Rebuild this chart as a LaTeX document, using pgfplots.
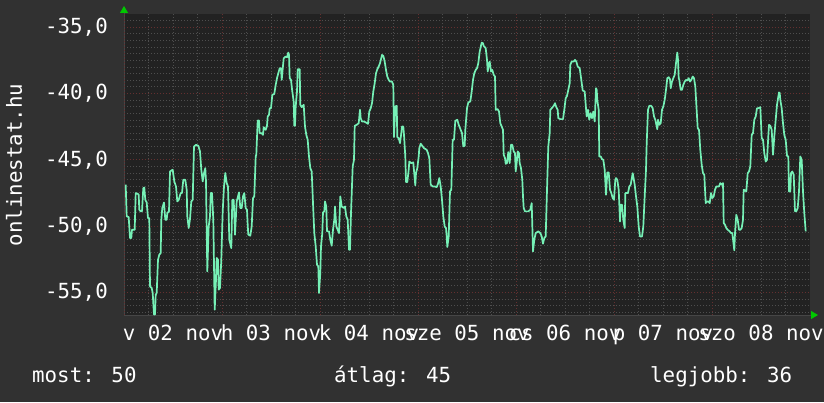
\documentclass[border=0pt]{standalone}
\usepackage{pgfplots}
\pgfplotsset{compat=1.18}
\usetikzlibrary{arrows.meta}
\usepackage{fontspec}
\setmainfont{DejaVu Sans Mono}
\definecolor{outerbg}{RGB}{49,49,49}
\definecolor{canvasbg}{RGB}{34,34,34}
\definecolor{minorgrid}{RGB}{78,78,78}
\definecolor{axisline}{RGB}{70,70,70}
\definecolor{majorgrid}{RGB}{100,48,48}
\definecolor{mint}{RGB}{118,240,182}
\definecolor{arrowgreen}{RGB}{0,200,0}
\pgfplotstableread{
x y
125.7 -46.88
126.7 -49.27
128.7 -49.32
130 -50.90
131.3 -50.90
132 -50.28
134.7 -50.28
135.7 -47.51
137.7 -47.56
138.7 -47.64
139.3 -48.77
140.7 -48.89
142 -48.89
143.3 -47.14
144.3 -47.09
145.3 -48.02
146.7 -48.22
148 -49.40
149.3 -49.40
150 -54.55
151.7 -54.67
152.7 -55.05
154 -56.68
155 -56.68
155.7 -55.18
156.7 -55.05
158 -52.54
159.3 -52.16
160.7 -52.04
161.3 -49.52
162.3 -48.64
164 -48.22
165.3 -49.52
166.7 -49.52
167.3 -49.02
169 -48.89
170 -45.88
172.7 -45.75
174.3 -46.63
176 -47.01
177.3 -48.14
178.7 -48.02
180.7 -47.51
182 -47.51
183.3 -46.51
185.3 -46.51
186.7 -47.26
187.3 -49.27
188.7 -50.15
190 -49.47
191.3 -48.14
192.7 -48.02
194 -44.00
196 -43.87
198.3 -43.94
200 -44.37
201.3 -45.75
202.7 -46.63
204 -46.00
205.3 -45.63
206 -46.63
207.3 -53.42
208.7 -50.03
210 -49.27
210.7 -47.51
212 -47.51
213.3 -49.52
214.7 -56.31
216 -54.05
216.7 -52.41
218 -52.54
218.7 -54.80
220 -54.67
221.3 -52.54
222.7 -48.89
224 -47.01
225.3 -46.00
226.7 -46.76
228 -47.01
229.3 -51.03
231.3 -51.66
232.3 -48.02
233.7 -48.02
235 -50.65
236.7 -48.14
239 -47.46
240.3 -48.64
241.7 -48.64
243 -47.76
244.3 -47.51
245.7 -48.64
247 -48.77
247.7 -49.90
248.3 -50.65
250.3 -50.73
251.7 -50.03
253 -47.89
254.3 -47.76
255.7 -44.75
256.3 -44.62
257.7 -42.04
259 -42.04
259.7 -42.99
261.7 -42.99
263 -43.12
263.7 -42.54
265.7 -42.74
267 -42.44
267.7 -41.73
269 -41.61
269.7 -41.11
271 -41.11
272.3 -40.10
274.3 -40.03
275.7 -39.35
277 -38.84
278.3 -38.47
279.7 -38.09
281 -38.09
281.7 -38.97
283.7 -37.34
285.7 -37.21
287 -37.26
288.3 -36.91
289 -37.09
289.7 -38.84
291 -38.97
292.3 -39.85
293.7 -40.60
294.3 -42.44
295 -42.44
295.7 -40.98
297 -39.85
297.7 -38.17
299.7 -38.17
300.3 -40.85
301.7 -41.03
303.7 -40.85
305 -42.49
306.3 -43.12
307.7 -43.49
309 -44.75
310.3 -45.63
311.7 -45.88
313 -48.27
314.3 -50.53
315.7 -51.53
317 -52.91
318.3 -53.04
319 -55.05
320.3 -53.54
321 -51.53
322.3 -50.53
323 -48.97
324.3 -48.89
325 -48.14
326.3 -48.52
327 -50.40
329 -50.40
330.3 -51.03
331.7 -51.48
333 -50.28
334.3 -49.52
335 -48.52
336.3 -50.03
337.7 -50.28
339 -50.53
340.3 -47.76
341.7 -48.52
343.7 -48.64
345 -48.52
346.3 -49.27
347.7 -49.52
349 -51.78
350 -51.78
351 -49.02
352.7 -45.50
354 -45.00
354.7 -42.44
356.7 -42.36
358.7 -42.24
360 -41.23
360.7 -41.86
362 -42.11
364 -42.11
366 -42.19
368 -42.29
369.3 -41.36
370.7 -41.11
372 -40.73
373.3 -39.85
374.7 -39.22
376 -38.47
377.3 -38.17
378.7 -37.96
380 -37.71
382 -37.09
383.3 -37.16
384.7 -37.59
386 -38.22
387.3 -38.72
388.7 -38.97
390 -39.10
392 -39.10
393.3 -39.35
394 -43.29
395.3 -40.98
396.7 -40.93
397.3 -43.29
398.7 -43.37
400 -43.74
401.3 -42.99
402 -42.49
403.3 -42.49
404 -43.12
405.3 -44.75
406 -46.68
407.3 -46.68
408.7 -45.75
409.3 -45.13
411.3 -45.25
413.3 -45.20
415.3 -46.93
416 -46.00
417.3 -45.63
418.7 -44.75
419.3 -44.12
420.7 -43.79
422.7 -43.99
424 -44.12
426.7 -44.25
428 -44.50
429.3 -44.87
430.7 -46.88
432.7 -47.01
434.7 -47.01
436.7 -47.06
438 -46.81
439.3 -46.38
440.7 -47.01
442 -48.02
443.3 -49.27
444.7 -50.03
446 -50.15
446.7 -50.78
447.3 -51.58
448.7 -50.78
450 -47.39
451.3 -47.26
452.7 -43.49
454 -43.49
455.3 -42.06
457.3 -41.98
458.7 -42.36
460.7 -42.74
462 -42.99
463.3 -43.99
464.7 -43.94
465.3 -42.74
467 -41.11
468.3 -40.68
470.3 -40.60
471.7 -39.85
473 -38.97
474.3 -38.47
475.7 -38.22
477 -38.09
478.3 -37.71
479.7 -36.83
481.7 -36.16
483 -36.21
483.7 -36.41
485.7 -36.58
487 -37.46
487.7 -38.34
489 -37.71
489.7 -37.59
491 -38.34
492.3 -38.22
493.7 -38.59
495 -38.72
495.7 -41.23
497.7 -41.18
499 -41.36
500.3 -42.24
501.7 -42.49
503 -42.74
503.7 -44.62
505 -44.87
505.7 -45.30
507 -45.25
508.3 -44.42
509.7 -45.25
511 -43.87
512.3 -43.87
513.7 -44.37
515 -44.50
515.7 -45.88
517 -45.00
517.7 -44.37
519 -44.50
519.7 -45.25
521 -45.63
522.3 -46.51
523 -47.76
523.7 -48.64
525 -48.89
528.3 -48.89
530.3 -48.77
531.7 -48.27
533 -51.91
534.3 -51.03
535.7 -50.53
538.3 -50.40
540.3 -50.53
541.7 -50.78
543 -51.33
544.3 -50.90
545.7 -50.78
547 -47.26
548.3 -43.99
549.7 -42.99
550.3 -41.23
551.7 -41.11
553.7 -40.93
555 -40.73
556.3 -41.03
557.7 -41.23
558.3 -41.86
560.3 -41.93
563 -41.93
564.3 -41.23
565.7 -40.35
567 -40.18
568.3 -39.72
569.7 -39.22
570.3 -37.84
571.7 -37.59
573.7 -37.59
575 -37.46
576.3 -37.59
577.7 -37.96
579.7 -38.09
581.3 -38.97
582.7 -39.77
584.7 -39.85
586 -41.11
586.7 -41.73
588 -41.23
589.3 -41.98
590.7 -41.48
592 -41.86
593.3 -41.36
594.7 -42.11
596 -39.60
596.7 -39.72
597.3 -40.48
598.7 -41.23
599.3 -44.75
600.7 -44.75
602 -44.95
603.3 -45.00
604.7 -45.75
606 -47.64
607.3 -45.95
608.7 -45.95
610 -47.26
611.3 -47.51
612.7 -47.89
614 -48.02
615.3 -46.51
616 -46.38
617.3 -46.51
618.7 -47.26
620 -49.65
620.7 -48.39
622 -48.39
623.3 -49.52
624.7 -50.15
625.3 -47.51
626.7 -47.51
628 -47.51
629.3 -47.01
630.7 -46.88
632.7 -46.01
633.3 -46.26
634.7 -46.88
636 -47.76
637.3 -48.52
638.7 -50.03
640 -50.78
642 -50.78
643.3 -50.03
644.7 -47.76
646 -45.75
646.7 -43.74
648 -41.23
649.3 -40.93
651.3 -40.93
652.7 -41.11
654 -41.73
655.3 -41.98
657.3 -42.69
658 -41.98
659.3 -42.36
660.7 -42.24
662 -41.23
663.3 -40.98
664.7 -40.48
666 -39.72
667.3 -38.84
668.7 -38.77
670 -38.92
670.7 -39.60
672 -39.10
673.3 -38.84
674.7 -38.59
676 -37.71
677.3 -36.91
678 -37.46
678.7 -38.84
679.3 -38.97
680.7 -39.72
682 -39.72
683.3 -39.35
684.7 -39.10
686 -38.97
687.3 -39.02
688.7 -38.84
690 -39.10
691.3 -38.97
692.7 -38.72
694 -38.84
695.3 -39.47
697.7 -42.61
699 -42.74
700.3 -44.25
701.7 -45.38
703 -46.01
704.3 -46.13
705.7 -48.27
707 -48.14
708.3 -48.14
709.7 -48.27
711 -47.51
712.3 -47.89
713.7 -47.76
715 -47.26
716.3 -47.01
717.7 -47.01
719 -47.01
720.3 -46.76
721.7 -46.88
723 -46.76
723.7 -49.77
725 -49.90
726.3 -50.15
727.7 -50.28
729.7 -50.40
731 -50.53
732.3 -50.53
734.3 -51.83
735 -50.53
736.3 -49.15
737.7 -49.52
739 -50.28
740.3 -50.28
741.7 -50.15
743 -49.52
743.7 -47.26
745 -47.31
746.3 -47.39
747.7 -46.01
749 -45.88
750.3 -45.50
751.7 -43.12
753 -42.99
754.3 -41.98
755.7 -41.73
757 -41.11
758.3 -41.11
760.3 -41.03
761.7 -43.37
763 -43.49
764.3 -44.50
765.7 -45.13
767 -45.00
768.3 -43.24
769 -42.36
770.3 -42.44
771.7 -42.74
773 -44.62
774.3 -43.24
775.7 -41.98
777 -40.85
779 -39.92
779.7 -39.97
780.3 -40.48
781.7 -41.11
783 -42.24
784.3 -43.12
785.7 -43.49
787 -44.70
788.3 -44.75
789 -47.39
790.3 -47.39
791 -46.01
792.3 -45.88
793.7 -46.13
795 -48.89
796.3 -48.89
797.7 -48.64
799 -47.39
800.3 -44.75
801.7 -45.00
803 -47.39
804.3 -49.02
805.7 -50.40
}\datatable
\begin{document}
\fontsize{20.8}{25}\selectfont
\begin{tikzpicture}
\fill[outerbg] (-124pt,-87pt) rectangle (700pt,315pt);
\begin{axis}[
  at={(0pt,0pt)}, anchor=south west,
  scale only axis, width=686pt, height=301pt,
  xmin=124, xmax=810, ymin=-56.71, ymax=-34.0,
  axis background/.style={fill=canvasbg},
  axis lines*=left,
  axis line style={draw=axisline, line width=0.8pt},
  x axis line style={-{Triangle[length=7pt,width=8pt,color=arrowgreen]}, shorten >=-8pt},
  y axis line style={-{Triangle[length=7pt,width=8pt,color=arrowgreen]}, shorten >=-8pt},
  xtick={173,271,369,467,565,663,761},
  xticklabels={v 02 nov,h 03 nov,k 04 nov,sze 05 nov,cs 06 nov,p 07 nov,szo 08 nov},
  minor xtick={148.5,173,197.5,246.5,271,295.5,344.5,369,393.5,442.5,467,491.5,540.5,565,589.5,638.5,663,687.5,736.5,761,785.5},
  extra x ticks={124,222,320,418,516,614,712},
  extra x tick labels={},
  extra x tick style={grid=major, major tick length=0pt},
  ytick={-55,-50,-45,-40,-35},
  yticklabels={{-55,0},{-50,0},{-45,0},{-40,0},{-35,0}},
  minor ytick={-56.5,-56,-55.5,-54.5,-54,-53.5,-53,-52.5,-52,-51.5,-51,-50.5,-49.5,-49,-48.5,-48,-47.5,-47,-46.5,-46,-45.5,-44.5,-44,-43.5,-43,-42.5,-42,-41.5,-41,-40.5,-39.5,-39,-38.5,-38,-37.5,-37,-36.5,-36,-35.5,-34.5},
  xmajorgrids=false, ymajorgrids=true, xminorgrids=true, yminorgrids=true,
  major grid style={draw=majorgrid, line width=0.9pt, dash pattern=on 1pt off 2pt},
  minor grid style={draw=minorgrid, line width=0.9pt, dash pattern=on 1pt off 2pt},
  major tick length=0pt, minor tick length=0pt,
  tick label style={font=\fontsize{20.8}{25}\selectfont, text=white},
  yticklabel style={anchor=east, inner sep=0pt, xshift=-16pt},
  xticklabel style={anchor=base, inner sep=0pt, yshift=-25pt},
  ylabel={onlinestat.hu},
  ylabel style={at={(axis description cs:-0.1603,0.498)}, rotate=0, anchor=center, text=white, font=\fontsize{20.8}{25}\selectfont},
]
\addplot[color=mint, line width=1.7pt, line join=round] table[x=x,y=y]{\datatable};
\end{axis}
\node[anchor=base west, text=white, inner sep=0pt] at (-92pt,-67pt) {most: 50};
\node[anchor=base west, text=white, inner sep=0pt] at (210pt,-67pt) {átlag: 45};
\node[anchor=base west, text=white, inner sep=0pt] at (526pt,-67pt) {legjobb: 36};
\pgfresetboundingbox
\useasboundingbox (-124pt,-87pt) rectangle (700pt,315pt);
\end{tikzpicture}
\end{document}
